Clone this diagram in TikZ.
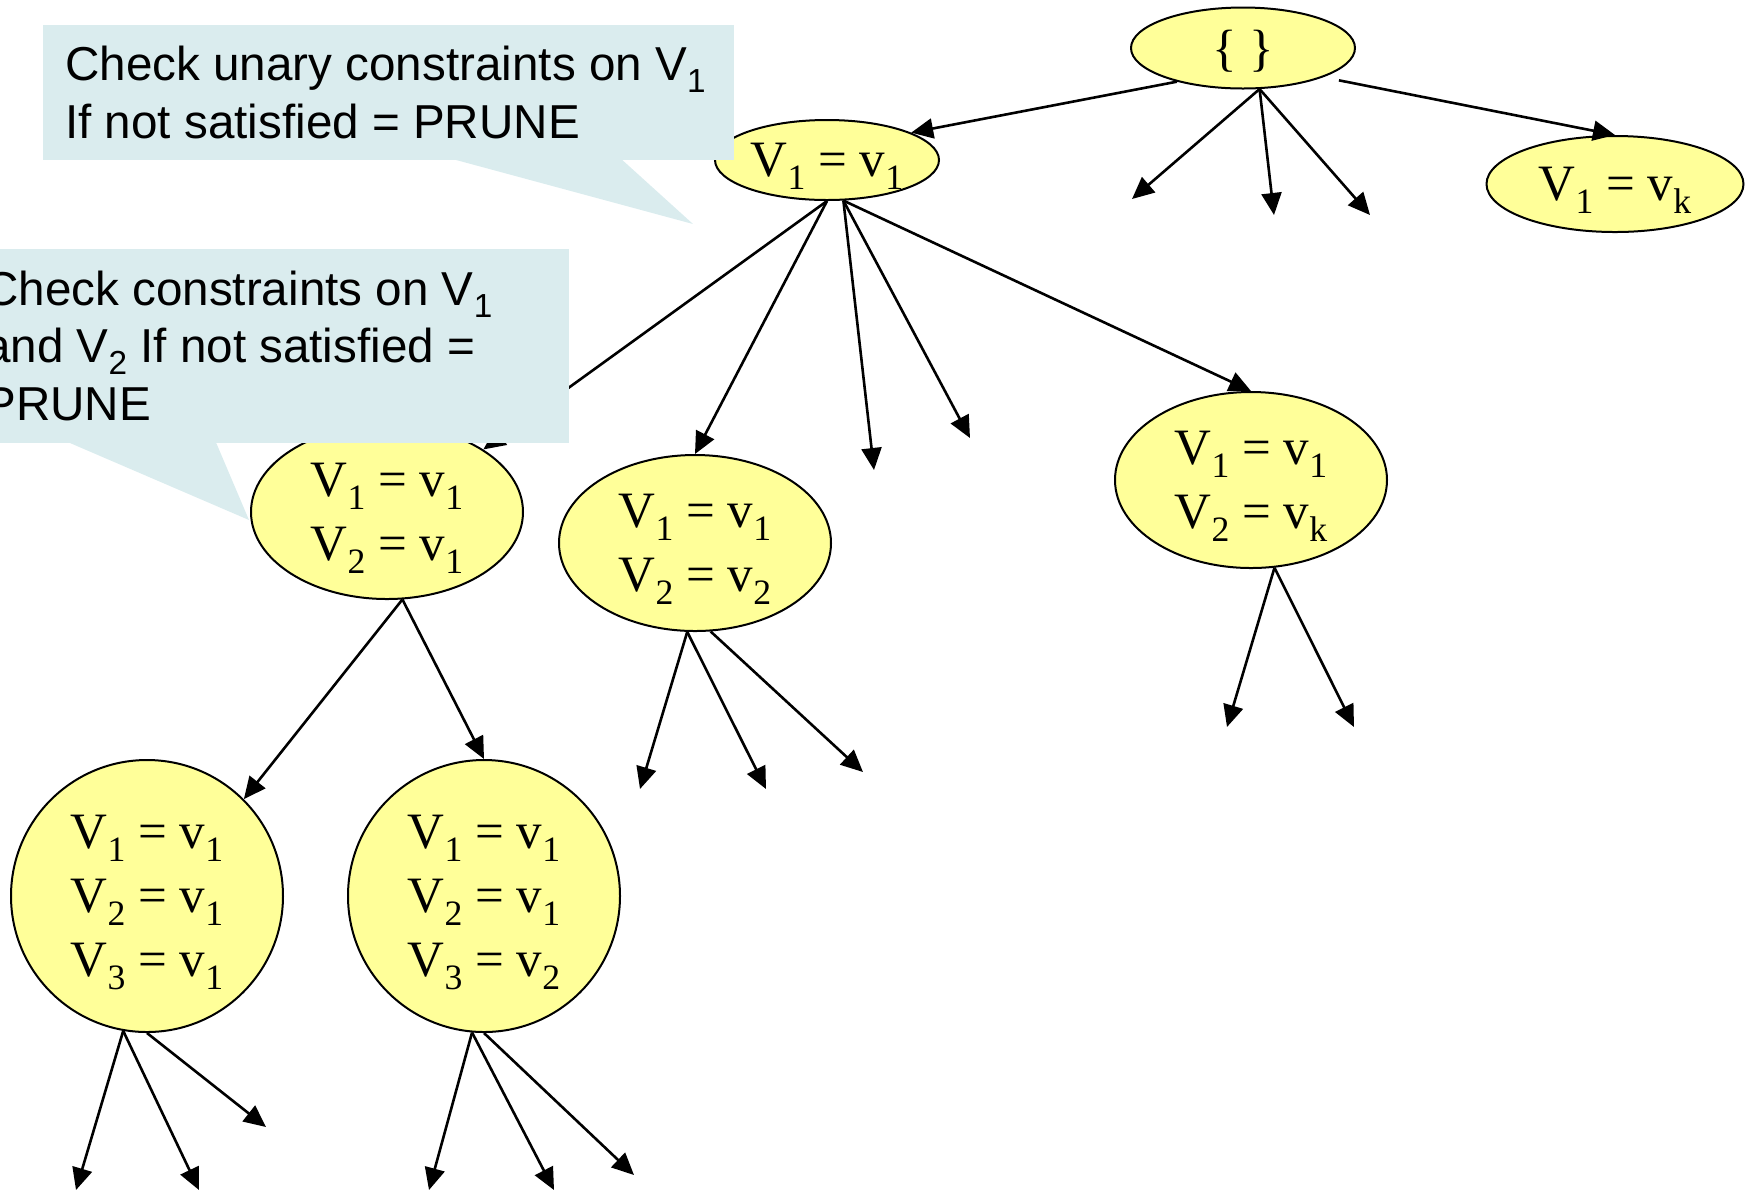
\documentclass[tikz,border=0pt]{standalone}
\usepackage{fontspec}
\setmainfont{Liberation Serif}
\setsansfont{Liberation Sans}
\usepackage{graphicx}
\usetikzlibrary{shapes.geometric, arrows.meta, positioning, calc}

\definecolor{nodeyellow}{RGB}{255,255,153}
\definecolor{notecyan}{RGB}{218,236,238}
\newcommand{\subidx}[1]{\raisebox{-0.26em}{\scalebox{0.7}{#1}}}

\tikzset{
  >={Triangle[length=11pt,width=10pt]},
  assign/.style={ellipse, draw=black, fill=nodeyellow, line width=1pt, inner sep=0pt,
    align=center, text depth=0pt, font=\fontsize{25.5pt}{32pt}\selectfont},
  deep assign/.style={assign, circle, minimum size=136pt},
  note/.style={rectangle, fill=notecyan, inner sep=0pt, anchor=north west},
  note text/.style={anchor=base west, inner sep=0pt, align=left,
    font=\sffamily\fontsize{23.8pt}{28.75pt}\selectfont},
}

\begin{document}
\begin{tikzpicture}[x=0.5pt, y=-0.5pt, line width=1.3pt]
\useasboundingbox (0,0) rectangle (1746,1191);
% search tree
\node[assign, minimum width=112pt, minimum height=40.5pt] (root) at (1243,48) {\{ \}};
\node[assign, minimum width=112pt, minimum height=40pt] (v1_a) at (827,160) {V\subidx{1} = v\subidx{1}};
\node[assign, minimum width=128.5pt, minimum height=48pt] (v1_k) at (1615,184) {V\subidx{1} = v\subidx{k}};
\node[assign, minimum width=136pt, minimum height=87pt] (v2_a) at (387,512) {V\subidx{1} = v\subidx{1}\\V\subidx{2} = v\subidx{1}};
\node[assign, minimum width=136pt, minimum height=88pt] (v2_b) at (695,543) {V\subidx{1} = v\subidx{1}\\V\subidx{2} = v\subidx{2}};
\node[assign, minimum width=136pt, minimum height=88pt] (v2_k) at (1251,480) {V\subidx{1} = v\subidx{1}\\V\subidx{2} = v\subidx{k}};
\node[deep assign] (v3_a) at (147,896) {V\subidx{1} = v\subidx{1}\\V\subidx{2} = v\subidx{1}\\V\subidx{3} = v\subidx{1}};
\node[deep assign] (v3_b) at (484,896) {V\subidx{1} = v\subidx{1}\\V\subidx{2} = v\subidx{1}\\V\subidx{3} = v\subidx{2}};

% open branches
\coordinate (r1) at (1132,199); \coordinate (r2) at (1274,215); \coordinate (r3) at (1370,215);
\coordinate (n1) at (874,470); \coordinate (n2) at (970,438);
\coordinate (b1) at (640,789); \coordinate (b2) at (766,789); \coordinate (b3) at (863,772);
\coordinate (c1) at (1227,727); \coordinate (c2) at (1354,727);
\coordinate (d1) at (76,1190); \coordinate (d2) at (199,1190); \coordinate (d3) at (266,1127);
\coordinate (e1) at (429,1190); \coordinate (e2) at (554,1190); \coordinate (e3) at (634,1175);

\path[->]
  (root.207) edge (v1_a.18)
  (root.-68) edge (r1) edge (r2) edge (r3)
  (root.-20) edge[shorten <=8pt] (v1_k.north)
  (v1_a.south) edge (v2_a.33) edge (v2_b.north)
  (v1_a.-68) edge (n1) edge (n2) edge (v2_k.north)
  (v2_a.-80) edge (v3_a.45) edge (v3_b.north)
  (v2_b.-95) edge (b1) edge (b2)
  (v2_b.-80) edge (b3)
  (v2_k.-75) edge (c1) edge (c2)
  (v3_a.-100) edge (d1) edge (d2)
  (v3_a.south) edge (d3)
  (v3_b.-95) edge (e1) edge (e2)
  (v3_b.south) edge (e3);

% callouts on top
\node[note, minimum width=345.5pt, minimum height=67.5pt] (unary_box) at (42,24) {};
\fill[notecyan] (445,157) -- (693,224) -- (619,157) -- cycle;
\node[note text] (unary_text) at (64,138) {Check unary constraints on V\subidx{1}\\If not satisfied = PRUNE};

\node[note, minimum width=303pt, minimum height=97pt] (binary_box) at (-38,248) {};
\fill[notecyan] (63,440) -- (249,520) -- (215,440) -- cycle;
\node[note text] (binary_text) at (-17,420) {Check constraints on V\subidx{1}\\and V\subidx{2} If not satisfied =\\PRUNE};
\end{tikzpicture}
\end{document}
